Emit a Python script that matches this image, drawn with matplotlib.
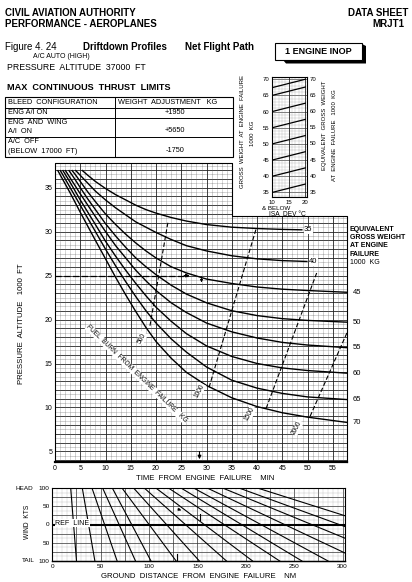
import matplotlib
matplotlib.use('Agg')
import matplotlib.pyplot as plt
from matplotlib.patches import Rectangle, Polygon
import numpy as np

plt.rcParams['font.family'] = ['Liberation Sans', 'DejaVu Sans']

# ---------------- data ----------------
weights = [35, 40, 45, 50, 55, 60, 65, 70]
t_35 = [5.3, 6.5, 8, 10, 12, 14, 16, 18, 20, 23, 26, 30, 35, 40, 45, 49]
a_35 = [37.0, 36.4, 35.7, 34.9, 34.2, 33.6, 33.0, 32.5, 32.1, 31.6, 31.2, 30.8, 30.5, 30.35, 30.25, 30.2]
t_40 = [4.0, 5, 6.5, 8, 10, 12, 14, 16, 18, 20, 23, 26, 30, 35, 40, 45, 50]
a_40 = [37.0, 36.4, 35.5, 34.6, 33.6, 32.7, 31.9, 31.1, 30.5, 29.9, 29.1, 28.4, 27.8, 27.25, 26.9, 26.7, 26.6]
t_45 = [3.3, 4, 5, 6.5, 8, 10, 12, 14, 16, 18, 20, 23, 26, 30, 35, 40, 45, 50, 57.8]
a_45 = [37.0, 36.5, 35.7, 34.5, 33.4, 32.0, 30.8, 29.7, 28.7, 27.8, 27.0, 26.0, 25.3, 24.6, 24.1, 23.7, 23.45, 23.3, 23.1]
t_50 = [2.7, 4, 5, 6.5, 8, 10, 12, 14, 16, 18, 20, 23, 26, 30, 35, 40, 45, 50, 57.8]
a_50 = [37.0, 35.9, 35.0, 33.7, 32.5, 30.9, 29.5, 28.2, 27.0, 26.0, 25.1, 23.9, 22.9, 21.9, 21.0, 20.45, 20.1, 19.9, 19.7]
t_55 = [2.0, 3, 4, 5, 6.5, 8, 10, 12, 14, 16, 18, 20, 23, 26, 30, 35, 40, 45, 50, 57.8]
a_55 = [37.0, 36.1, 35.2, 34.3, 33.0, 31.7, 30.0, 28.4, 27.0, 25.6, 24.4, 23.3, 21.9, 20.8, 19.6, 18.6, 17.9, 17.4, 17.1, 16.8]
t_60 = [1.5, 3, 4, 5, 6.5, 8, 10, 12, 14, 16, 18, 20, 23, 26, 30, 35, 40, 45, 50, 57.8]
a_60 = [37.0, 35.6, 34.6, 33.6, 32.2, 30.8, 28.9, 27.2, 25.6, 24.1, 22.7, 21.4, 19.8, 18.4, 17.0, 15.8, 15.0, 14.5, 14.2, 13.9]
t_65 = [1.0, 3, 4, 5, 6.5, 8, 10, 12, 14, 16, 18, 20, 23, 26, 30, 35, 40, 45, 50, 57.8]
a_65 = [37.0, 35.0, 34.0, 33.0, 31.5, 30.0, 28.0, 26.1, 24.3, 22.6, 21.0, 19.6, 17.8, 16.3, 14.6, 13.1, 12.2, 11.6, 11.2, 10.9]
t_70 = [0.5, 3, 4, 5, 6.5, 8, 10, 12, 14, 16, 18, 20, 23, 26, 30, 35, 40, 45, 50, 57.8]
a_70 = [37.0, 34.4, 33.3, 32.2, 30.6, 29.0, 26.9, 24.8, 22.8, 20.9, 19.1, 17.5, 15.6, 14.0, 12.5, 11.1, 10.1, 9.4, 8.9, 8.3]
curve_t = [t_35, t_40, t_45, t_50, t_55, t_60, t_65, t_70]
curve_a = [a_35, a_40, a_45, a_50, a_55, a_60, a_65, a_70]

fuel_labels = ['500', '1000', '1500', '2000']
fuel_t0 = [18.8, 30.5, 41.8, 50.5]
fuel_a0 = [19.3, 12.3, 9.9, 9.0]
fuel_t1 = [22.4, 39.8, 51.8, 57.8]
fuel_a1 = [31.2, 30.3, 25.3, 18.5]
fuel_lab_t = [17.2, 28.6, 38.6, 47.9]
fuel_lab_a = [17.9, 11.9, 9.3, 7.7]

time_ticks = [0, 5, 10, 15, 20, 25, 30, 35, 40, 45, 50, 55]
alt_ticks = [5, 10, 15, 20, 25, 30, 35]

isa_left = [35, 40, 45, 50, 55, 60, 65, 67.4]
isa_right = [37.6, 42.6, 47.6, 52.6, 57.6, 62.6, 67.6, 70]
isa_ticks = [35, 40, 45, 50, 55, 60, 65, 70]

wind_top = [19, 31, 41, 52, 62, 72, 84, 95, 107, 120, 133, 146, 160, 176, 193, 212]
wind_bottom = [25, 44, 67, 86, 102, 128, 152, 180, 207, 235, 258, 285, 320, 360, 400, 450]
dist_ticks = [0, 50, 100, 150, 200, 250, 300]
wind_ticks = [100, 50, 0, -50, -100]

table_rows = [("ENG A/I ON", "+1950"), ("ENG AND WING\nA/I ON", "+5650"),
              ("A/C OFF\n(BELOW 17000 FT)", "-1750")]

# ---------------- figure ----------------
W, H = 412, 582
fig = plt.figure(figsize=(W / 100, H / 100), dpi=100)
fig.patch.set_facecolor('white')


def axes_px(x0, y0, x1, y1, **kw):
    return fig.add_axes([x0 / W, 1 - y1 / H, (x1 - x0) / W, (y1 - y0) / H], **kw)


ov = fig.add_axes([0, 0, 1, 1], zorder=10)
ov.set_xlim(0, W)
ov.set_ylim(H, 0)
ov.axis('off')
ov.patch.set_visible(False)

# header
ov.text(5, 13, "CIVIL AVIATION AUTHORITY", fontsize=7, fontweight='bold', va='center')
ov.text(5, 24, "PERFORMANCE - AEROPLANES", fontsize=7, fontweight='bold', va='center')
ov.text(408, 13, "DATA SHEET", fontsize=7, fontweight='bold', va='center', ha='right')
ov.text(404, 24, "MRJT1", fontsize=7, fontweight='bold', va='center', ha='right')
ov.text(5, 47, "Figure 4. 24", fontsize=7, va='center')
ov.text(83, 47, "Driftdown Profiles", fontsize=7, fontweight='bold', va='center')
ov.text(185, 47, "Net Flight Path", fontsize=7, fontweight='bold', va='center')
ov.text(33, 57, "A/C AUTO (HIGH)", fontsize=5, va='center')
ov.text(7, 68, "PRESSURE  ALTITUDE  37000  FT", fontsize=6.3, va='center')
ov.text(7, 88, "MAX  CONTINUOUS  THRUST  LIMITS", fontsize=6.6, fontweight='bold', va='center')

# engine inop box
ov.add_patch(Polygon([(283, 60), (362, 60), (362, 44), (366, 46), (366, 63.5), (286, 63.5)],
                     closed=True, facecolor='black', edgecolor='none'))
ov.add_patch(Rectangle((275, 43), 87, 17, facecolor='white', edgecolor='black', lw=0.8))
ov.text(318.5, 51.5, "1 ENGINE INOP", fontsize=6.5, fontweight='bold', ha='center', va='center')

# table
tx0, tx1, tmid = 5, 233, 115
rows_y = [96.7, 107.7, 117.7, 136.7, 156.7]
ov.add_patch(Rectangle((tx0, rows_y[0]), tx1 - tx0, rows_y[-1] - rows_y[0], fill=False, lw=0.8,
                       edgecolor='black'))
for yy in rows_y[1:-1]:
    ov.plot([tx0, tx1], [yy, yy], color='black', lw=0.7)
ov.plot([tmid, tmid], [rows_y[0], rows_y[-1]], color='black', lw=0.7)
ov.text(8, 102.5, "BLEED  CONFIGURATION", fontsize=5.3, va='center')
ov.text(118, 102.5, "WEIGHT  ADJUSTMENT   KG", fontsize=5.3, va='center')
ov.text(8, 112.5, table_rows[0][0], fontsize=5.3, va='center')
ov.text(175, 113, table_rows[0][1], fontsize=5.3, va='center', ha='center')
ov.text(8, 122.5, "ENG  AND  WING", fontsize=5.3, va='center')
ov.text(8, 131.5, "A/I  ON", fontsize=5.3, va='center')
ov.text(175, 131, table_rows[1][1], fontsize=5.3, va='center', ha='center')
ov.text(8, 141.5, "A/C  OFF", fontsize=5.3, va='center')
ov.text(8, 151.5, "(BELOW  17000  FT)", fontsize=5.3, va='center')
ov.text(175, 151, table_rows[2][1], fontsize=5.3, va='center', ha='center')

# ---------------- main chart ----------------
ax = axes_px(55, 163, 347, 462)
T0, T1, A0, A1 = 0, 57.8, 3.8, 37.8
cut_t, cut_a = 35.0, 31.74
ax.set_xlim(T0, T1)
ax.set_ylim(A0, A1)
for s in ax.spines.values():
    s.set_visible(False)

for a in np.arange(4.0, 37.8, 0.5):
    xe = cut_t if a > cut_a else T1
    if abs(a - round(a)) < 1e-6:
        ax.plot([0, xe], [a, a], color='#222222', lw=0.6, zorder=1)
    else:
        ax.plot([0, xe], [a, a], color='#666666', lw=0.4, ls=(0, (1, 1)), zorder=1)
for t in np.arange(1, 58, 1):
    ye = A1 if t <= cut_t else cut_a
    if t % 5 == 0:
        ax.plot([t, t], [A0, ye], color='#222222', lw=0.6, zorder=1)
    else:
        ax.plot([t, t], [A0, ye], color='#666666', lw=0.4, ls=(0, (1, 1)), zorder=1)

ax.plot([0, 0, cut_t, cut_t, T1, T1], [A0, A1, A1, cut_a, cut_a, A0], color='black', lw=0.8,
        clip_on=False, zorder=3)
ax.plot([0, T1], [A0, A0], color='black', lw=1.6, clip_on=False, zorder=3)

for w, tt, aa in zip(weights, curve_t, curve_a):
    ax.plot(tt, aa, color='black', lw=1.0, zorder=4, solid_capstyle='butt')
    if w in (35, 40):
        ax.text(tt[-1] + 0.3, aa[-1], str(w), fontsize=5.5, va='center', ha='left', zorder=5,
                bbox=dict(facecolor='white', edgecolor='none', pad=0.4))
    else:
        ax.text(T1 + 1.1, aa[-1], str(w), fontsize=5.5, va='center', ha='left', clip_on=False)

for lab, x0, y0, x1, y1, lt, la in zip(fuel_labels, fuel_t0, fuel_a0, fuel_t1, fuel_a1,
                                       fuel_lab_t, fuel_lab_a):
    ax.plot([x0, x1], [y0, y1], color='black', lw=0.8, dashes=(4, 2), zorder=4)
    ax.text(lt, la, lab, fontsize=4.8, rotation=62, ha='center', va='center', zorder=5,
            bbox=dict(facecolor='white', edgecolor='none', pad=0.3))

ax.text(16.2, 13.8, "FUEL  BURN  FROM  ENGINE  FAILURE   KG", fontsize=4.8, rotation=-44,
        ha='center', va='center', zorder=5,
        bbox=dict(facecolor='white', edgecolor='none', pad=0.2))

# example
ax.plot([0, 26.3], [25, 25], color='black', lw=0.9, dashes=(5, 2), zorder=4)
ax.annotate('', xy=(27.2, 25), xytext=(25.0, 25),
            arrowprops=dict(arrowstyle='-|>', color='black', lw=0.8, mutation_scale=5), zorder=5)
ax.annotate('', xy=(29.0, 23.9), xytext=(29.0, 25.2),
            arrowprops=dict(arrowstyle='-|>', color='black', lw=0.6, mutation_scale=4), zorder=5)
ax.annotate('', xy=(28.6, A0), xytext=(28.6, 5.3),
            arrowprops=dict(arrowstyle='-|>', color='black', lw=0.8, mutation_scale=5), zorder=5)

ax.set_xticks(time_ticks)
ax.set_yticks(alt_ticks)
ax.tick_params(labelsize=5, length=0, pad=2)

ov.text(205, 479, "TIME  FROM  ENGINE  FAILURE    MIN", fontsize=5.6, ha='center', va='center')
ov.text(22, 324, "PRESSURE  ALTITUDE   1000  FT", fontsize=5.6, ha='center', va='center',
        rotation=90)
for i, s in enumerate(["EQUIVALENT", "GROSS WEIGHT", "AT ENGINE", "FAILURE"]):
    ov.text(350, 229.3 + i * 8.3, s, fontsize=5.0, fontweight='bold', va='center')
ov.text(350, 262.7, "1000  KG", fontsize=5.0, va='center')

# ---------------- ISA inset ----------------
ai = axes_px(272, 77, 307, 197, zorder=6)
ai.set_xlim(10, 20.5)
ai.set_ylim(33.6, 70.7)
for s in ai.spines.values():
    s.set_linewidth(0.8)
for v in range(34, 71):
    if v % 5 == 0:
        ai.axhline(v, color='#333333', lw=0.45, zorder=1)
    else:
        ai.axhline(v, color='#888888', lw=0.35, ls=(0, (1, 1)), zorder=1)
for v in range(11, 21):
    if v % 5 == 0:
        ai.axvline(v, color='#222222', lw=0.6, zorder=1)
    else:
        ai.axvline(v, color='#888888', lw=0.35, ls=(0, (1, 1)), zorder=1)
for l, r in zip(isa_left, isa_right):
    ai.plot([10, 20], [l, r], color='black', lw=0.9, zorder=3)
ai.set_xticks([10, 15, 20])
ai.set_yticks(isa_ticks)
ai.tick_params(labelsize=4.3, length=0, pad=2)
for v in isa_ticks:
    ai.text(21.3, v, str(v), fontsize=4.3, va='center', ha='left', clip_on=False)
ov.text(262, 209, "& BELOW", fontsize=4.5, va='center')
ov.text(287, 215, "ISA  DEV °C", fontsize=4.8, va='center', ha='center')
ov.text(243, 132, "GROSS  WEIGHT  AT  ENGINE  FAILURE", fontsize=4.3, rotation=90,
        ha='center', va='center')
ov.text(253, 133, "1000  KG", fontsize=4.3, rotation=90, ha='center', va='center')
ov.text(325, 125, "EQUIVALENT  GROSS  WEIGHT", fontsize=4.3, rotation=90, ha='center',
        va='center')
ov.text(334.3, 135, "AT  ENGINE  FAILURE   1000  KG", fontsize=4.3, rotation=90,
        ha='center', va='center')

# ---------------- wind chart ----------------
aw = axes_px(52.3, 488, 345, 561)
aw.set_xlim(0, 302.5)
aw.set_ylim(-100, 100)
for s in aw.spines.values():
    s.set_linewidth(0.8)
for d in np.arange(5, 302, 5):
    if d % 25 == 0:
        aw.axvline(d, color='#333333', lw=0.5, zorder=1)
    else:
        aw.axvline(d, color='#999999', lw=0.35, ls=(0, (1, 1)), zorder=1)
for k in np.arange(-87.5, 100, 12.5):
    if k % 25 == 0:
        aw.axhline(k, color='#333333', lw=0.5, zorder=1)
    else:
        aw.axhline(k, color='#999999', lw=0.35, ls=(0, (1, 1)), zorder=1)
aw.axhline(0, color='black', lw=1.5, zorder=2)
for a_, b_ in zip(wind_top, wind_bottom):
    aw.plot([a_, b_], [100, -100], color='black', lw=0.8, zorder=3)
aw.text(3, 3, "REF  LINE", fontsize=5, va='center', ha='left', zorder=5,
        bbox=dict(facecolor='white', edgecolor='none', pad=0.3))
aw.plot([0, 302.5], [-100, -100], color='black', lw=1.0, clip_on=False, zorder=4)
aw.annotate('', xy=(136, 36), xytext=(127, 45),
            arrowprops=dict(arrowstyle='-|>', color='black', lw=0.6, mutation_scale=4), zorder=5)
aw.plot([153, 153], [12, 28], color='black', lw=0.8, zorder=5)
aw.plot([129, 129], [-82, -96], color='black', lw=0.8, zorder=5)
aw.set_xticks(dist_ticks)
aw.set_yticks(wind_ticks)
aw.set_yticklabels([str(abs(v)) for v in wind_ticks])
aw.tick_params(labelsize=4.6, length=0, pad=2)
ov.text(33, 488, "HEAD", fontsize=4.6, ha='right', va='center')
ov.text(35, 561, "TAIL", fontsize=4.6, ha='right', va='center')
ov.text(28, 522, "WIND  KTS", fontsize=4.8, rotation=90, ha='center', va='center')
ov.text(199, 576, "GROUND  DISTANCE  FROM  ENGINE  FAILURE    NM", fontsize=5.6, ha='center',
        va='center')

fig.savefig('out.png', dpi=100, facecolor='white')
